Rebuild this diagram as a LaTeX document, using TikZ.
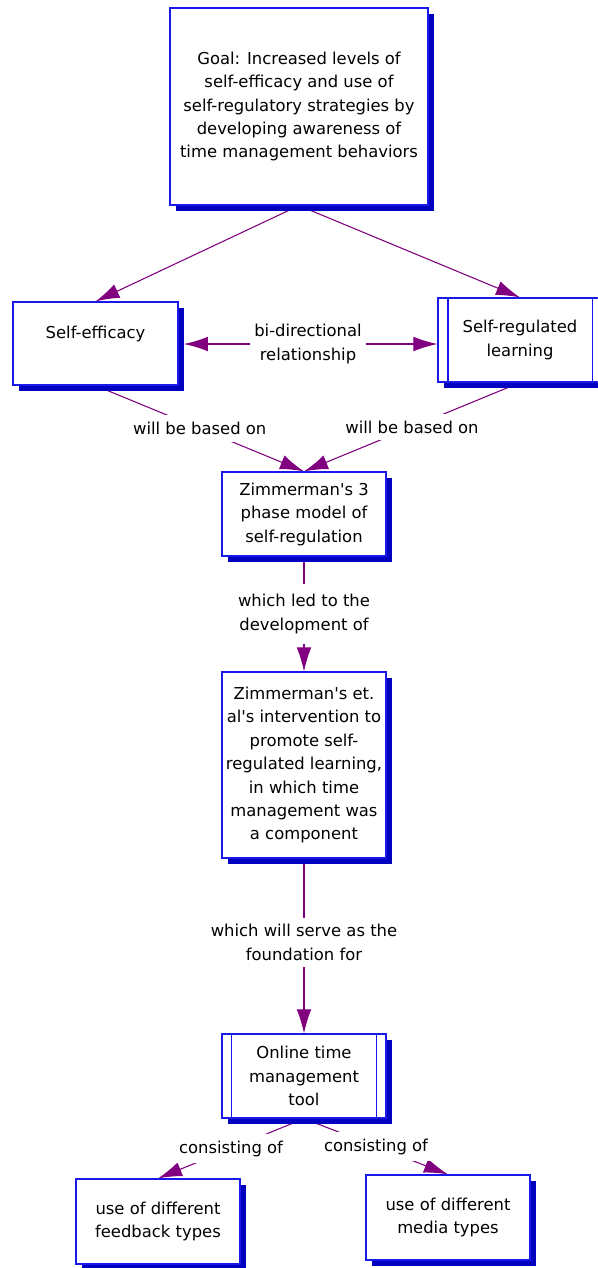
\documentclass[tikz,border=0pt]{standalone}
\usepackage{fontspec}
\setmainfont{DejaVu Sans}
\usetikzlibrary{arrows.meta,shadows}
\pgfdeclarelayer{background}
\pgfsetlayers{background,main}
\definecolor{mapblue}{RGB}{25,25,235}
\definecolor{mapshadow}{RGB}{0,0,190}
\definecolor{mappurple}{RGB}{128,0,128}
\newcommand\mapfont{\fontsize{12.3}{17.6}\selectfont}
\tikzset{
  concept/.style={draw=mapblue, line width=0.9pt, fill=white, align=center,
    inner sep=0pt, minimum width=123pt, minimum height=63pt, font=\mapfont,
    drop shadow={shadow xshift=4.5pt, shadow yshift=-4.5pt, fill=mapshadow, opacity=1}},
  linkword/.style={fill=white, align=center, inner xsep=3pt, inner ysep=5pt, font=\mapfont},
  link/.style={draw=mappurple, line width=0.8pt},
  linkarrow/.style={link, -{Latex[length=18pt,width=11pt]}}
}
\begin{document}
\begin{tikzpicture}[x=0.75pt,y=0.75pt,yscale=-1,xscale=1]
\useasboundingbox (0,0) rectangle (597,1268);

% concepts
\node[concept, minimum width=193.5pt, minimum height=147.75pt] (goal) at (299,106.5)
  {Goal: Increased levels of\\self-efficacy and use of\\self-regulatory strategies by\\developing awareness of\\time management behaviors};
\node[concept, minimum width=123.75pt, minimum height=62.25pt] (selfeff) at (95.5,343.5) {Self-efficacy\\~};
\node[concept] (srl) at (520,340) {Self-regulated\\learning};
\node[concept] (zimmodel) at (304,514) {Zimmerman\textquotesingle s 3\\phase model of\\self-regulation};
\node[concept, minimum height=139.5pt] (intervention) at (304,765)
  {Zimmerman\textquotesingle s et.\\al\textquotesingle s intervention to\\promote self-\\regulated learning,\\in which time\\management was\\a component};
\node[concept] (tool) at (304,1076) {Online time\\management\\tool};
\node[concept, minimum height=63.75pt] (feedback) at (158,1221.5) {use of different\\feedback types};
\node[concept, minimum height=63.75pt] (media) at (448,1217.5) {use of different\\media types};

% inner borders
\draw[mapblue, line width=0.9pt] ([xshift=8pt]srl.north west) -- ([xshift=8pt]srl.south west);
\draw[mapblue, line width=0.9pt] ([xshift=-7.5pt]srl.north east) -- ([xshift=-7.5pt]srl.south east);
\draw[mapblue, line width=0.9pt] ([xshift=7.5pt]tool.north west) -- ([xshift=7.5pt]tool.south west);
\draw[mapblue, line width=0.9pt] ([xshift=-7.5pt]tool.north east) -- ([xshift=-7.5pt]tool.south east);

% links
\begin{pgfonlayer}{background}
\draw[linkarrow] (goal.south) -- (selfeff.north);
\draw[linkarrow] (goal.south) -- (srl.north);
\node[linkword] (bidir) at (308,344) {bi-directional\\relationship};
\draw[linkarrow] (bidir.west) -- ([xshift=4pt]selfeff.east |- bidir.west);
\draw[linkarrow] (bidir.east) -- (srl.west |- bidir.east);
\draw[linkarrow] (selfeff.south) -- node[linkword] {will be based on} (zimmodel.north);
\draw[linkarrow] (srl.south) -- node[linkword] {will be based on} (zimmodel.north);
\draw[linkarrow] (zimmodel.south) -- node[linkword, inner ysep=8pt] {which led to the\\development of} (intervention.north);
\draw[linkarrow] (intervention.south) -- node[linkword, pos=0.48] {which will serve as the\\foundation for} (tool.north);
\draw[linkarrow] (tool.south) -- node[linkword] {consisting of} (feedback.north);
\draw[linkarrow] (tool.south) -- node[linkword] {consisting of} (media.north);
\end{pgfonlayer}

\end{tikzpicture}
\end{document}
